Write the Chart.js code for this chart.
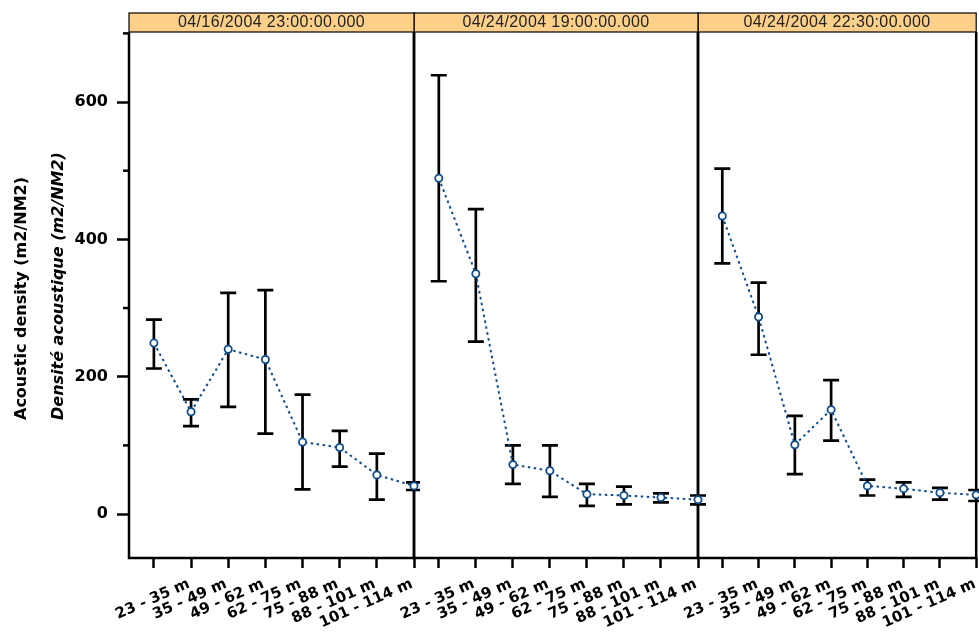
<!DOCTYPE html>
<html>
<head>
<meta charset="utf-8">
<script src="https://cdn.jsdelivr.net/npm/chart.js@4.4.1/dist/chart.umd.min.js"></script>
<style>
html, body { margin: 0; padding: 0; background: #fff; overflow: hidden; }
body { position: relative; width: 979px; height: 632px; }
canvas { position: absolute; top: 0; }
</style>
</head>
<body>
<canvas id="p1" width="420" height="632" style="left:0px;z-index:3"></canvas>
<canvas id="p2" width="360" height="632" style="left:360px;z-index:2"></canvas>
<canvas id="p3" width="342" height="632" style="left:640px;z-index:1"></canvas>
<script>
// depth layers (last bin has no label on the axis)
var depthLabels = ['23 - 35 m', '35 - 49 m', '49 - 62 m', '62 - 75 m', '75 - 88 m', '88 - 101 m', '101 - 114 m'];
var stripDates = ['04/16/2004 23:00:00.000', '04/24/2004 19:00:00.000', '04/24/2004 22:30:00.000'];

// 04/16/2004 23:00
var mean1 = [249, 149, 240, 225, 105, 97, 57, 41];
var low1  = [212, 128, 156, 117, 36, 69, 21, 35];
var high1 = [283, 167, 322, 326, 174, 121, 88, 46];

// 04/24/2004 19:00
var mean2 = [489, 350, 72, 63, 29, 27, 24, 21];
var low2  = [339, 251, 44, 25, 12, 14, 17, 14];
var high2 = [639, 444, 100, 100, 44, 40, 30, 27];

// 04/24/2004 22:30
var mean3 = [434, 287, 101, 152, 41, 37, 31, 28];
var low3  = [365, 232, 58, 107, 27, 25, 21, 19];
var high3 = [503, 337, 143, 195, 50, 46, 38, 35];

var yTitle1 = 'Acoustic density (m2/NM2)';
var yTitle2 = 'Densité acoustique (m2/NM2)';

var blue = '#0f4c8a';

var lattice = {
  id: 'lattice',
  beforeDatasetsDraw: function (chart, args, opts) {
    var ctx = chart.ctx, a = chart.chartArea, x = chart.scales.x, y = chart.scales.y;
    ctx.save();
    // panel frame
    ctx.strokeStyle = '#000';
    ctx.lineWidth = 2.5;
    ctx.beginPath();
    ctx.moveTo(a.left, a.top); ctx.lineTo(a.left, a.bottom); ctx.lineTo(a.right, a.bottom); ctx.lineTo(a.right, a.top);
    ctx.stroke();
    // minor ticks on y
    if (opts.yTitle) {
      y.ticks.forEach(function (t) {
        if (t.value % 200 !== 0) {
          var py = y.getPixelForValue(t.value);
          ctx.beginPath(); ctx.moveTo(a.left - 6, py); ctx.lineTo(a.left, py); ctx.stroke();
        }
      });
    }
    // error bars
    ctx.lineWidth = 2.7;
    opts.lo.forEach(function (lo, i) {
      var px = x.getPixelForValue(i + 1);
      var top = y.getPixelForValue(opts.hi[i]), bot = y.getPixelForValue(lo);
      ctx.beginPath();
      ctx.moveTo(px, top); ctx.lineTo(px, bot);
      ctx.moveTo(px - 8, top); ctx.lineTo(px + 8, top);
      ctx.moveTo(px - 8, bot); ctx.lineTo(px + 8, bot);
      ctx.stroke();
    });
    ctx.restore();
  },
  afterDraw: function (chart, args, opts) {
    var ctx = chart.ctx, a = chart.chartArea;
    ctx.save();
    // strip
    ctx.fillStyle = '#ffd08a';
    ctx.fillRect(a.left, 13, a.right - a.left, 19);
    ctx.strokeStyle = '#000';
    ctx.lineWidth = 1.2;
    ctx.strokeRect(a.left, 13, a.right - a.left, 19);
    ctx.fillStyle = '#222';
    ctx.font = '16px "Liberation Sans", Arial, sans-serif';
    ctx.letterSpacing = '0.4px';
    ctx.textAlign = 'center';
    ctx.textBaseline = 'middle';
    ctx.fillText(opts.strip, (a.left + a.right) / 2, 23);
    ctx.letterSpacing = '0px';
    if (opts.yTitle) {
      ctx.fillStyle = '#000';
      ctx.textAlign = 'left';
      ctx.save();
      ctx.translate(22, 420); ctx.rotate(-Math.PI / 2);
      ctx.font = 'bold 16px "DejaVu Sans"';
      ctx.fillText(yTitle1, 0, 0);
      ctx.restore();
      ctx.save();
      ctx.translate(59, 420); ctx.rotate(-Math.PI / 2);
      ctx.font = 'italic bold 16px "DejaVu Sans"';
      ctx.fillText(yTitle2, 0, 0);
      ctx.restore();
    }
    ctx.restore();
  }
};

function makePanel(id, strip, mean, lo, hi, padL, padR, first) {
  var pts = mean.map(function (v, i) { return {x: i + 1, y: v}; });
  return new Chart(id, {
    type: 'line',
    data: {
      datasets: [{
        data: pts,
        borderColor: blue,
        borderWidth: 2,
        borderDash: [2.5, 3.5],
        pointRadius: 3.6,
        pointBorderWidth: 1.8,
        pointBackgroundColor: '#fff',
        pointBorderColor: blue,
        clip: false
      }]
    },
    options: {
      responsive: false,
      animation: false,
      layout: {padding: {left: padL, right: padR, top: 32, bottom: 0}},
      plugins: {
        legend: {display: false},
        tooltip: {enabled: false},
        lattice: {strip: strip, lo: lo, hi: hi, yTitle: first}
      },
      scales: {
        x: {
          type: 'linear', min: 0.33, max: 8,
          border: {display: false},
          grid: {drawOnChartArea: false, tickLength: 10, tickColor: '#000', tickWidth: 2.5},
          ticks: {
            stepSize: 1, includeBounds: false, autoSkip: false,
            minRotation: 24, maxRotation: 24, labelOffset: 35, padding: 7,
            color: '#000', font: {family: 'DejaVu Sans', weight: 'bold', size: 15},
            callback: function (v) { return depthLabels[v - 1] || ''; }
          },
          afterFit: function (s) { s.height = 74; s.paddingLeft = 0; s.paddingRight = 0; }
        },
        y: {
          display: first,
          min: -64, max: 702,
          border: {display: false},
          grid: {
            drawOnChartArea: false, tickLength: 12, tickWidth: 2.5,
            tickColor: function (c) { return c.tick && c.tick.value % 200 === 0 ? '#000' : 'rgba(0,0,0,0)'; }
          },
          ticks: {
            stepSize: 100, includeBounds: false, padding: 9,
            color: '#000', font: {family: 'DejaVu Sans', weight: 'bold', size: 16},
            callback: function (v) { return v % 200 === 0 ? v : ''; }
          },
          afterFit: function (s) { s.width = first ? 129 : 0; s.paddingTop = 0; s.paddingBottom = 0; }
        }
      }
    },
    plugins: [lattice]
  });
}

makePanel('p1', stripDates[0], mean1, low1, high1, 0, 6, true);
makePanel('p2', stripDates[1], mean2, low2, high2, 54, 22, false);
makePanel('p3', stripDates[2], mean3, low3, high3, 58, 0, false);
</script>
</body>
</html>
